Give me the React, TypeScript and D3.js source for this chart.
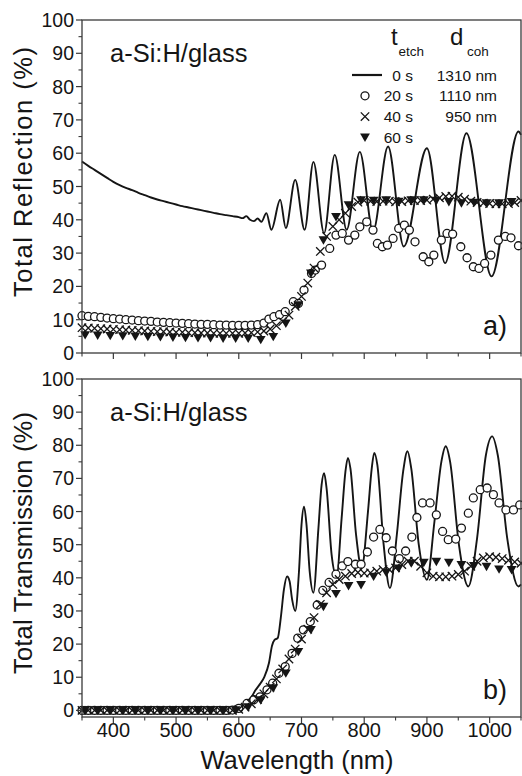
import React from 'react';
import * as d3 from 'd3';

type P = [number, number];

// ---------- DATA (wavelength nm, percent) ----------
const reflLine0s: P[] = [[350,57.5],[360,56.2],[370,55.0],[380,53.8],[390,52.6],[400,51.4],[410,50.4],[420,49.6],[430,48.9],[440,48.1],[450,47.4],[460,46.7],[470,46.1],[480,45.6],[490,45.1],[500,44.6],[510,44.1],[520,43.7],[530,43.3],[540,42.9],[550,42.5],[560,42.1],[570,41.7],[580,41.4],[590,41.1],[600,40.8],[606,40.5],[612,41.1],[618,40.0],[624,39.6],[630,40.4],[636,39.4],[644,42.0],[652,37.0],[666,46.0],[675,37.5],[690,52.0],[705,37.0],[719,57.4],[736,36.0],[753,59.5],[772,37.0],[793,60.4],[814,36.5],[838,62.0],[863,32.0],[900,61.5],[929,27.0],[963,66.0],[1003,23.0],[1046,66.5],[1050,65.5]];

const reflCircles20s: P[] = [[350,11.2],[360,11.0],[370,10.9],[380,10.7],[390,10.5],[400,10.3],[410,10.2],[420,10.0],[430,9.9],[440,9.7],[450,9.6],[460,9.5],[470,9.3],[480,9.2],[490,9.1],[500,9.0],[510,8.9],[520,8.8],[530,8.7],[540,8.6],[550,8.6],[560,8.5],[570,8.4],[580,8.4],[590,8.3],[600,8.3],[610,8.3],[620,8.4],[630,8.5],[640,9.0],[648,10.2],[656,10.9],[665,11.5],[674,12.4],[687,15.4],[695,14.9],[704,18.9],[716,23.9],[722,24.9],[732,26.4],[745,31.4],[755,35.4],[765,35.9],[775,33.9],[785,35.4],[793,37.9],[804,39.4],[814,36.9],[821,32.9],[829,31.9],[837,32.4],[846,34.4],[855,37.4],[864,38.4],[872,36.9],[881,33.4],[894,28.9],[903,27.4],[911,29.4],[923,33.9],[932,35.9],[941,35.7],[954,31.9],[964,28.6],[974,25.9],[983,25.4],[992,26.9],[1002,29.4],[1014,33.9],[1025,35.0],[1034,34.6],[1046,32.2]];

const reflCross40s: P[] = [[350,7.6],[360,7.5],[370,7.4],[380,7.3],[390,7.2],[400,7.1],[410,7.0],[420,6.9],[430,6.8],[440,6.7],[450,6.6],[460,6.5],[470,6.4],[480,6.4],[490,6.3],[500,6.2],[510,6.2],[520,6.1],[530,6.1],[540,6.0],[550,6.0],[560,5.9],[570,5.9],[580,5.9],[590,5.9],[600,5.9],[610,6.0],[620,6.1],[630,6.3],[640,6.6],[650,7.2],[660,8.2],[670,9.4],[680,11.4],[690,14.0],[700,17.0],[710,21.0],[720,25.5],[730,30.5],[740,35.0],[750,38.0],[760,40.0],[770,42.0],[780,44.0],[790,45.3],[800,45.8],[810,45.6],[820,45.5],[830,45.6],[840,45.6],[850,45.4],[860,45.5],[870,45.7],[880,45.8],[890,45.8],[900,45.9],[910,46.2],[920,46.6],[930,47.0],[940,47.1],[950,46.8],[960,46.2],[970,45.6],[980,45.2],[990,45.0],[1000,44.9],[1010,44.8],[1020,44.8],[1030,44.9],[1040,45.2],[1050,45.8]];

const reflTri60s: P[] = [[355,5.4],[375,5.3],[395,5.2],[415,5.1],[435,5.0],[455,4.9],[475,4.8],[495,4.7],[515,4.6],[535,4.5],[555,4.5],[575,4.4],[595,4.4],[615,4.4],[635,4.0],[655,4.9],[675,8.9],[695,14.4],[715,23.9],[735,33.9],[755,40.9],[775,44.4],[795,45.9],[815,45.8],[835,45.9],[855,45.5],[875,45.9],[895,45.9],[915,45.8],[935,45.4],[955,45.0],[975,45.2],[995,45.0],[1015,45.0],[1035,45.4]];

const transLine0s: P[] = [[350,0],[400,0],[450,0],[500,0],[550,0],[580,0.1],[590,0.4],[600,1.0],[610,2.2],[620,4.0],[627,6.2],[634,8.0],[641,10.2],[648,14.2],[653,19.5],[657,21.3],[662,21.8],[667,28.0],[672,36.5],[677,40.4],[681,39.0],[685,33.5],[690,30.0],[696,42.0],[700,56.0],[704,61.5],[708,56.0],[713,42.0],[719,35.5],[727,55.0],[732,68.0],[736,71.6],[740,67.0],[748,47.0],[756,40.4],[764,58.0],[770,72.0],[774,76.2],[778,73.0],[787,53.0],[796,42.9],[806,60.0],[812,73.0],[816,77.7],[821,74.0],[831,50.0],[841,36.9],[852,53.0],[862,72.0],[869,78.2],[875,73.0],[887,50.0],[900,39.4],[912,57.0],[923,75.0],[930,79.7],[937,75.0],[951,50.0],[966,37.4],[980,52.0],[994,77.0],[1004,82.7],[1013,77.0],[1028,52.0],[1046,37.4],[1050,38.0]];

const transCircles20s: P[] = [[350,0],[360,0],[370,0],[380,0],[390,0],[400,0],[410,0],[420,0],[430,0],[440,0],[450,0],[460,0],[470,0],[480,0],[490,0],[500,0],[510,0],[520,0],[530,0],[540,0],[550,0],[560,0],[570,0],[580,0],[590,0.1],[600,0.6],[613,2.1],[624,3.2],[634,4.1],[645,6.2],[654,8.2],[664,11.2],[674,13.2],[685,17.2],[694,21.8],[703,24.3],[714,26.8],[725,31.8],[734,36.2],[744,38.6],[755,41.1],[765,43.6],[774,44.9],[786,44.1],[795,44.1],[805,47.8],[815,52.3],[825,54.6],[835,52.1],[845,48.1],[856,45.8],[866,48.1],[876,52.3],[884,58.2],[893,62.6],[905,62.6],[915,59.0],[925,54.0],[934,51.5],[946,51.7],[955,55.0],[966,59.5],[974,64.1],[985,66.6],[996,67.1],[1006,65.1],[1015,62.6],[1026,60.5],[1038,60.5],[1048,62.0]];

const transCross40s: P[] = [[350,0],[360,0],[370,0],[380,0],[390,0],[400,0],[410,0],[420,0],[430,0],[440,0],[450,0],[460,0],[470,0],[480,0],[490,0],[500,0],[510,0],[520,0],[530,0],[540,0],[550,0],[560,0],[570,0],[580,0],[590,0],[600,0.3],[610,1.0],[620,2.0],[630,3.3],[640,5.0],[650,7.0],[660,9.5],[670,12.5],[680,15.5],[690,18.5],[700,21.5],[710,24.5],[720,28.0],[730,32.0],[740,35.5],[750,38.0],[760,39.5],[770,40.5],[780,41.3],[790,41.6],[800,41.4],[810,41.5],[820,42.0],[830,42.5],[840,42.5],[850,43.0],[860,44.0],[870,45.0],[880,45.0],[890,43.5],[900,41.5],[910,40.5],[920,40.3],[930,40.3],[940,40.5],[950,41.0],[960,42.0],[970,43.5],[980,45.0],[990,46.0],[1000,46.4],[1010,46.2],[1020,45.8],[1030,45.3],[1040,44.8],[1050,44.4]];

const transTri60s: P[] = [[355,0],[375,0],[395,0],[415,0],[435,0],[455,0],[475,0],[495,0],[515,0],[535,0],[555,0],[575,0],[595,0.1],[615,1.0],[635,3.1],[655,6.7],[675,11.2],[695,17.7],[715,24.3],[735,31.3],[755,35.2],[775,37.6],[795,37.9],[815,40.4],[835,41.6],[855,42.9],[875,44.4],[895,44.6],[915,44.9],[935,44.6],[955,43.9],[975,43.6],[995,43.4],[1015,42.6],[1035,42.4]];

const xMajorTicks = [400, 500, 600, 700, 800, 900, 1000];
const xMinorTicks = [350, 450, 550, 650, 750, 850, 950, 1050];
const yMajorTicks = [0, 10, 20, 30, 40, 50, 60, 70, 80, 90, 100];
const yMinorTicks = [5, 15, 25, 35, 45, 55, 65, 75, 85, 95];

const legendTimes = ['0 s', '20 s', '40 s', '60 s'];
const legendThickness = ['1310 nm', '1110 nm', '950 nm', ''];
const legendMarkers = ['line', 'circle', 'cross', 'triangle'];

// ---------- LAYOUT ----------
const W = 522;
const H = 776;
const FONT = "'Liberation Sans', Arial, Helvetica, sans-serif";
const INK = '#151515';
const AXIS = '#3a3a3a';

const x = d3.scaleLinear().domain([350, 1050]).range([82, 521]);
const yTop = d3.scaleLinear().domain([0, 100]).range([353, 20]);
const yBot = d3.scaleLinear().domain([-2, 100]).range([717, 379]);

const Circle = ({ cx, cy }: { cx: number; cy: number }) => (
  <circle cx={cx} cy={cy} r={4.0} fill="white" stroke={INK} strokeWidth={1.3} />
);
const Cross = ({ cx, cy }: { cx: number; cy: number }) => (
  <path
    d={`M${cx - 4.2},${cy - 4.2}L${cx + 4.2},${cy + 4.2}M${cx - 4.2},${cy + 4.2}L${cx + 4.2},${cy - 4.2}`}
    stroke={INK}
    strokeWidth={1.3}
    fill="none"
  />
);
const Tri = ({ cx, cy }: { cx: number; cy: number }) => (
  <path d={`M${cx - 4.9},${cy - 3.8}L${cx + 4.9},${cy - 3.8}L${cx},${cy + 4.6}Z`} fill={INK} />
);

type PanelProps = {
  y: d3.ScaleLinear<number, number>;
  line: P[];
  circles: P[];
  crosses: P[];
  tris: P[];
  title: string;
  titleCenter: number;
  titleLength: number;
  letter: string;
  showX: boolean;
};

function Panel({ y, line, circles, crosses, tris, title, titleCenter, titleLength, letter, showX }: PanelProps) {
  const [x0, x1] = x.range();
  const [yb, yt] = y.range();
  const gen = d3
    .line<P>()
    .x((d) => x(d[0]))
    .y((d) => y(d[1]))
    .curve(d3.curveMonotoneX);
  return (
    <g>
      <path d={gen(line) || ''} fill="none" stroke={INK} strokeWidth={1.9} strokeLinejoin="round" />
      {circles.map((d, i) => (
        <Circle key={'c' + i} cx={x(d[0])} cy={y(d[1])} />
      ))}
      {crosses.map((d, i) => (
        <Cross key={'x' + i} cx={x(d[0])} cy={y(d[1])} />
      ))}
      {tris.map((d, i) => (
        <Tri key={'t' + i} cx={x(d[0])} cy={y(d[1])} />
      ))}
      <rect x={x0} y={yt} width={x1 - x0} height={yb - yt} fill="none" stroke={AXIS} strokeWidth={1.3} />
      {yMajorTicks.map((t) => (
        <g key={'ym' + t}>
          <line x1={x0 - 6} x2={x0} y1={y(t)} y2={y(t)} stroke={AXIS} strokeWidth={1.2} />
          <text x={x0 - 8} y={y(t)} dy="0.36em" textAnchor="end" fontSize={19.5} fontFamily={FONT} fill={INK}>
            {t}
          </text>
        </g>
      ))}
      {yMinorTicks.map((t) => (
        <line key={'yn' + t} x1={x0 - 3.5} x2={x0} y1={y(t)} y2={y(t)} stroke={AXIS} strokeWidth={1.1} />
      ))}
      {xMajorTicks.map((t) => (
        <g key={'xm' + t}>
          <line x1={x(t)} x2={x(t)} y1={yb} y2={yb + 6} stroke={AXIS} strokeWidth={1.2} />
          {showX && (
            <text x={x(t)} y={yb + 20} textAnchor="middle" fontSize={20} fontFamily={FONT} fill={INK}>
              {t}
            </text>
          )}
        </g>
      ))}
      {xMinorTicks.map((t) => (
        <line key={'xn' + t} x1={x(t)} x2={x(t)} y1={yb} y2={yb + 3.5} stroke={AXIS} strokeWidth={1.1} />
      ))}
      <text
        transform={`translate(32,${titleCenter}) rotate(-90)`}
        textAnchor="middle"
        fontSize={25.5}
        fontFamily={FONT}
        fill={INK}
        textLength={titleLength}
        lengthAdjust="spacing"
      >
        {title}
      </text>
      <text x={110} y={yt + 42} fontSize={25.5} fontFamily={FONT} fill={INK}>
        a-Si:H/glass
      </text>
      <text x={507} y={yb - 18} textAnchor="end" fontSize={27} fontFamily={FONT} fill={INK}>
        {letter}
      </text>
    </g>
  );
}

function Legend() {
  const rowY = (i: number) => 80.5 + i * 20.8;
  return (
    <g fontFamily={FONT} fill={INK}>
      <text x={391} y={45} fontSize={24}>t</text>
      <text x={398.5} y={56} fontSize={13.5}>etch</text>
      <text x={450} y={45} fontSize={24}>d</text>
      <text x={467} y={56} fontSize={13.5}>coh</text>
      {legendTimes.map((t, i) => {
        const by = rowY(i);
        const my = by - 5.5;
        const m = legendMarkers[i];
        return (
          <g key={t}>
            {m === 'line' && <line x1={352} x2={382} y1={my} y2={my} stroke={INK} strokeWidth={2.2} />}
            {m === 'circle' && <Circle cx={365} cy={my} />}
            {m === 'cross' && <Cross cx={365} cy={my} />}
            {m === 'triangle' && <Tri cx={365} cy={my} />}
            <text x={413} y={by} textAnchor="end" fontSize={15.5}>
              {t}
            </text>
            {legendThickness[i] && (
              <text x={497} y={by} textAnchor="end" fontSize={15.5}>
                {legendThickness[i]}
              </text>
            )}
          </g>
        );
      })}
    </g>
  );
}

export default function App() {
  return (
    <svg
      width={W}
      height={H}
      viewBox={`0 0 ${W} ${H}`}
      style={{ position: 'absolute', left: 0, top: 0, background: 'white' }}
    >
      <rect x={0} y={0} width={W} height={H} fill="white" />
      <Panel
        y={yTop}
        line={reflLine0s}
        circles={reflCircles20s}
        crosses={reflCross40s}
        tris={reflTri60s}
        title="Total Reflection (%)"
        titleCenter={172}
        titleLength={250}
        letter="a)"
        showX={false}
      />
      <Legend />
      <Panel
        y={yBot}
        line={transLine0s}
        circles={transCircles20s}
        crosses={transCross40s}
        tris={transTri60s}
        title="Total Transmission (%)"
        titleCenter={543}
        titleLength={262}
        letter="b)"
        showX={true}
      />
      <text x={297} y={769} textAnchor="middle" fontSize={25.5} fontFamily={FONT} fill={INK}>
        Wavelength (nm)
      </text>
    </svg>
  );
}
